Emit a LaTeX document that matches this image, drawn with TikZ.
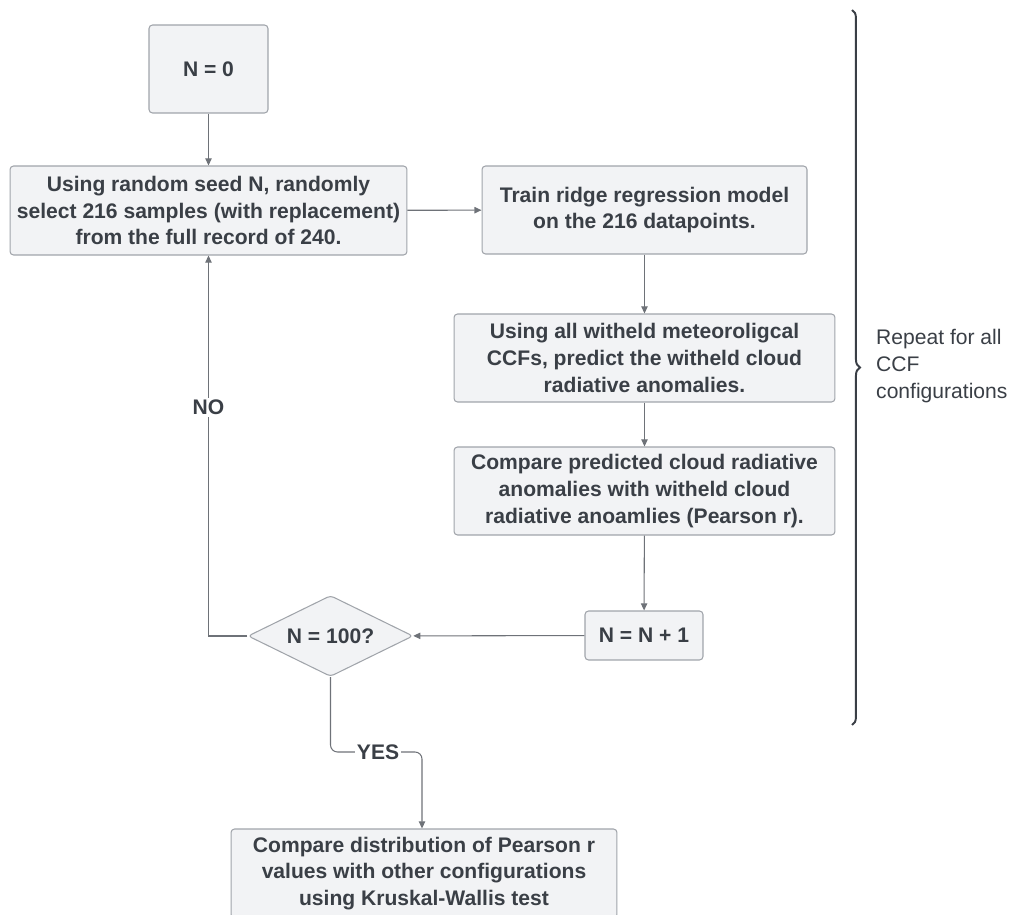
\documentclass[tikz,border=0pt]{standalone}
\usepackage{fontspec}
\setmainfont{Liberation Sans}
\usetikzlibrary{arrows.meta,positioning,shapes.geometric,decorations.pathreplacing}
\definecolor{flowFill}{RGB}{242, 243, 245}
\definecolor{flowBorder}{RGB}{160, 164, 170}
\definecolor{flowText}{RGB}{58, 63, 70}
\definecolor{flowLine}{RGB}{110, 114, 120}

\begin{document}
\begin{tikzpicture}[
  x=0.02cm, y=-0.02cm,
  process/.style={
    draw=flowBorder,
    fill=flowFill,
    rounded corners=2pt,
    line width=0.6pt,
    inner xsep=1pt,
    align=center,
    text=flowText,
    font=\bfseries\fontsize{12}{15.3}\selectfont
  },
  decision/.style={
    process,
    diamond,
    aspect=2,
    inner sep=1pt,
    minimum width=3.3cm,
    minimum height=1.62cm
  },
  arrow/.style={-{Triangle[length=4pt,width=3.6pt]},line width=0.6pt,flowLine},
  edgelabel/.style={fill=white,inner sep=1pt,text=flowText,font=\bfseries\fontsize{12}{14}\selectfont}
]
  \path[use as bounding box, clip] (0,0) rectangle (1011,915);

  \node[process,minimum width=2.38cm,minimum height=1.76cm] (start) at (208.5,69) {N = 0};
  \node[process,minimum width=7.94cm,minimum height=1.78cm] (seed) at (208.5,210.5)
    {Using random seed N, randomly\\select 216 samples (with replacement)\\from the full record of 240.};
  \node[process,minimum width=6.5cm,minimum height=1.76cm] (train) at (644.5,210)
    {Train ridge regression model\\on the 216 datapoints.};
  \node[process,minimum width=7.62cm,minimum height=1.76cm] (withheld) at (644.5,358)
    {Using all witheld meteoroligcal\\CCFs, predict the witheld cloud\\radiative anomalies.};
  \node[process,minimum width=7.62cm,minimum height=1.76cm] (compare) at (644.5,491)
    {Compare predicted cloud radiative\\anomalies with witheld cloud\\radiative anoamlies (Pearson r).};
  \node[process,minimum width=2.36cm,minimum height=0.98cm] (counter) at (644,635.5) {N = N + 1};
  \node[decision] (check) at (330.5,636) {N = 100?};
  \node[process,minimum width=7.72cm,minimum height=1.78cm] (final) at (424,873.5)
    {Compare distribution of Pearson r\\values with other configurations\\using Kruskal-Wallis test};
  \coordinate (yesbend) at (422,752);

  \draw[arrow] (start) -- (seed);
  \draw[arrow] (seed) -- (train);
  \draw[arrow] (train) -- (withheld);
  \draw[arrow] (withheld) -- (compare);
  \draw[arrow] (compare) -- (counter);
  \draw[arrow] (counter) -- (check);
  \draw[arrow] (check.west) -| node[edgelabel,pos=0.8] {NO} (seed.south);
  \draw[arrow,rounded corners=4pt] (check.south) |- node[edgelabel,pos=0.76] {YES} (yesbend) -- (yesbend |- final.north);

  % loop over all configurations
  \draw[flowText,line width=1.1pt,decorate,decoration={brace,amplitude=4.5pt}] (852,10) -- (852,725);
  \node[anchor=west,align=left,text=flowText,font=\fontsize{12}{15.3}\selectfont] (repeat) at (870,366)
    {Repeat for all\\CCF\\configurations};
\end{tikzpicture}
\end{document}
